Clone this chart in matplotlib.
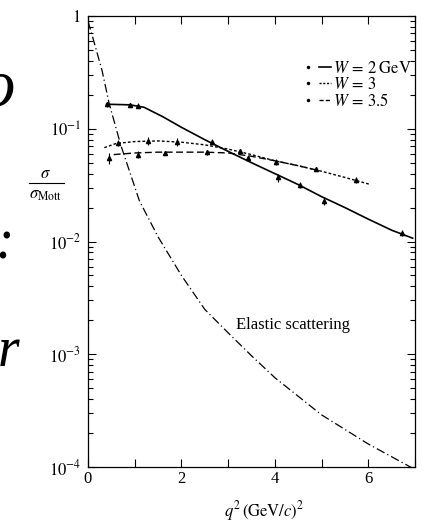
import numpy as np
import matplotlib.pyplot as plt
from matplotlib.lines import Line2D
from matplotlib.legend_handler import HandlerTuple
from matplotlib.ticker import FixedLocator, FuncFormatter, MultipleLocator, LogLocator, NullFormatter

plt.rcParams['font.family'] = 'serif'
plt.rcParams['font.serif'] = ['Liberation Serif', 'DejaVu Serif']
plt.rcParams['mathtext.fontset'] = 'stix'

# elastic scattering curve
q2_el = [0.0, 0.1, 0.3, 0.45, 0.7, 1.1, 1.5, 2.0, 2.5, 3.0, 3.5, 4.0, 5.0, 6.0, 7.0]
el = [0.9, 0.65, 0.33, 0.17, 0.072, 0.023, 0.011, 0.0050, 0.0025, 0.00155,
      0.00097, 0.00062, 0.00029, 0.00016, 0.000095]

# inelastic fits
q2_w2 = [0.4, 0.9, 1.2, 1.6, 2.0, 2.5, 3.0, 3.5, 4.0, 4.5, 5.0, 5.5, 6.0, 6.5, 6.95]
w2 = [0.165, 0.163, 0.155, 0.128, 0.103, 0.080, 0.063, 0.050, 0.040, 0.032,
      0.025, 0.020, 0.0158, 0.0126, 0.0107]
q2_w3 = [0.35, 0.6, 1.0, 1.5, 2.0, 2.5, 3.0, 3.5, 4.0, 4.5, 5.0, 5.5, 6.05]
w3 = [0.068, 0.074, 0.077, 0.078, 0.076, 0.072, 0.066, 0.059, 0.052, 0.047,
      0.042, 0.037, 0.032]
q2_w35 = [0.55, 1.0, 1.5, 2.0, 2.5, 3.0, 3.5, 4.0, 4.5, 4.9]
w35 = [0.059, 0.061, 0.062, 0.062, 0.062, 0.061, 0.057, 0.052, 0.047, 0.043]

# measured points
pq_w2 = [0.40, 0.90, 1.07, 2.66, 3.43, 4.06, 4.53, 5.06, 6.73]
pv_w2 = [0.165, 0.163, 0.160, 0.077, 0.055, 0.037, 0.032, 0.023, 0.0119]
pe_w2 = [0.008, 0.007, 0.008, 0.004, 0.003, 0.003, 0.002, 0.002, 0.0007]
pq_w3 = [0.64, 1.28, 1.90, 3.25, 4.03, 4.89, 5.74]
pv_w3 = [0.075, 0.078, 0.077, 0.063, 0.051, 0.044, 0.035]
pe_w3 = [0.004, 0.006, 0.006, 0.003, 0.003, 0.002, 0.002]
pq_w35 = [0.45, 1.07, 1.64, 2.54]
pv_w35 = [0.055, 0.059, 0.061, 0.062]
pe_w35 = [0.006, 0.004, 0.003, 0.003]

y_ticks = [1e-4, 1e-3, 1e-2, 1e-1, 1]
y_labels = ['$10^{-4}$', '$10^{-3}$', '$10^{-2}$', '$10^{-1}$', '$1$']

fig = plt.figure(figsize=(4.23, 5.25), dpi=100)
ax = fig.add_axes([0.208, 0.1105, 0.773, 0.859])

ax.plot(q2_el, el, color='black', lw=0.9, dashes=(7, 2.5, 1, 2.5))
ax.plot(q2_w2, w2, color='black', lw=1.2, ls='-')
ax.plot(q2_w3, w3, color='black', lw=1.0, dashes=(2, 1.5))
ax.plot(q2_w35, w35, color='black', lw=1.0, dashes=(5, 2.5))

for q, v, e in [(pq_w2, pv_w2, pe_w2), (pq_w3, pv_w3, pe_w3), (pq_w35, pv_w35, pe_w35)]:
    ax.errorbar(q, v, yerr=e, fmt='^', ms=3, color='black', ecolor='black',
                elinewidth=0.8, capsize=0)

ax.set_yscale('log')
ax.set_xlim(0, 7)
ax.set_ylim(1e-4, 1)

ax.yaxis.set_major_locator(FixedLocator(y_ticks))
ax.yaxis.set_major_formatter(FuncFormatter(lambda v, p: y_labels[y_ticks.index(v)] if v in y_ticks else ''))
ax.yaxis.set_minor_locator(LogLocator(base=10, subs=np.arange(2, 10)))
ax.yaxis.set_minor_formatter(NullFormatter())
ax.xaxis.set_major_locator(MultipleLocator(2))
ax.xaxis.set_minor_locator(MultipleLocator(1))

ax.tick_params(which='both', direction='in', top=True, right=True, width=0.8, labelsize=12)
ax.tick_params(which='major', length=6)
ax.tick_params(axis='y', which='minor', length=3.5)
ax.tick_params(axis='x', which='minor', length=6)
ax.tick_params(axis='y', pad=5)
ax.tick_params(axis='x', pad=3)
for s in ax.spines.values():
    s.set_linewidth(0.9)

ax.set_xlabel(r'$q^2\,(\mathrm{GeV}/c)^2$', fontsize=12)
ax.xaxis.set_label_coords(0.54, -0.071)

# y label as a stacked fraction sigma / sigma_Mott
fig.text(0.108, 0.668, r'$\sigma$', fontsize=12, ha='center', va='center')
fig.text(0.108, 0.628, r'$\sigma_{\mathrm{Mott}}$', fontsize=12, ha='center', va='center')
fig.add_artist(Line2D([0.068, 0.152], [0.651, 0.651], color='black', lw=0.8,
                      transform=fig.transFigure))

ax.text(3.16, 0.0018, 'Elastic scattering', fontsize=12, ha='left', va='center')

dot = Line2D([], [], ls='none', marker='.', ms=3, color='black')
h2 = Line2D([], [], color='black', lw=1.2)
h3 = Line2D([], [], color='black', lw=1.0, dashes=(1.5, 1.2))
h35 = Line2D([], [], color='black', lw=1.0, dashes=(3, 1.5))
ax.legend([(dot, h2), (dot, h3), (dot, h35)],
          [r'$W\,=\,2\;\mathrm{GeV}$', r'$W\,=\,3$', r'$W\,=\,3.5$'],
          handler_map={tuple: HandlerTuple(ndivide=None, pad=0.3)},
          loc='upper right', bbox_to_anchor=(0.991, 0.9), frameon=False,
          fontsize=12, handlelength=1.7, handletextpad=0.15, labelspacing=0.0,
          borderaxespad=0, borderpad=0)

# fragments of the slide text cut off at the left edge
fig.text(-0.045, 0.83, 'o', fontsize=48, style='italic', ha='left', va='center')
fig.text(-0.012, 0.535, ':', fontsize=40, style='italic', ha='left', va='center')
fig.text(-0.005, 0.33, 'r', fontsize=40, style='italic', ha='left', va='center')

fig.savefig('out.png', dpi=100)
